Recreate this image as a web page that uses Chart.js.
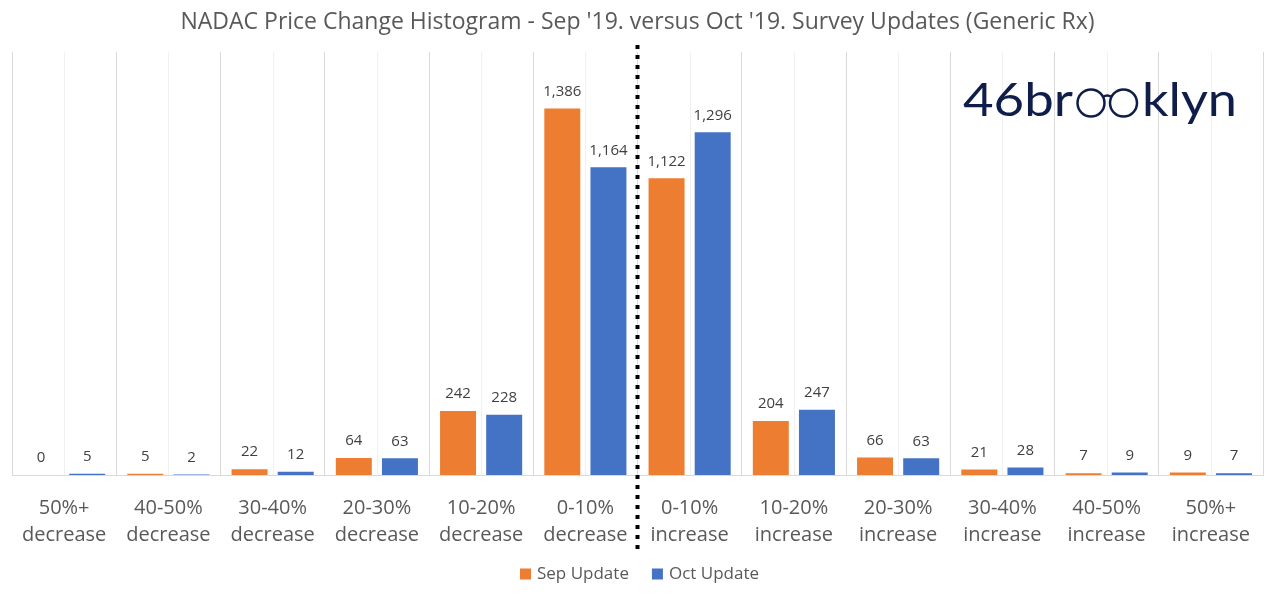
<!DOCTYPE html>
<html>
<head>
<meta charset="utf-8">
<script src="https://cdn.jsdelivr.net/npm/chart.js@4"></script>
<style>
  html, body { margin: 0; padding: 0; background: #fff; }
  #wrap { width: 1277px; height: 600px; }
</style>
</head>
<body>
<div id="wrap"><canvas id="histChart"></canvas></div>
<script>
const categories = [
    ['50%+', 'decrease'], ['40-50%', 'decrease'], ['30-40%', 'decrease'],
    ['20-30%', 'decrease'], ['10-20%', 'decrease'], ['0-10%', 'decrease'],
    ['0-10%', 'increase'], ['10-20%', 'increase'], ['20-30%', 'increase'],
    ['30-40%', 'increase'], ['40-50%', 'increase'], ['50%+', 'increase']
];
const sepUpdate = [0, 5, 22, 64, 242, 1386, 1122, 204, 66, 21, 7, 9];
const octUpdate = [5, 2, 12, 63, 228, 1164, 1296, 247, 63, 28, 9, 7];

const FONT = "'Open Sans', sans-serif";

// light lines through the middle of each category
const centerLines = {
    id: 'centerLines',
    beforeDatasetsDraw(chart) {
        const { ctx, chartArea, scales } = chart;
        ctx.save();
        ctx.strokeStyle = '#f0f0f0';
        ctx.lineWidth = 1;
        for (let i = 0; i < categories.length; i++) {
            const x = Math.round(scales.x.getPixelForValue(i)) + 0.5;
            ctx.beginPath();
            ctx.moveTo(x, chartArea.top);
            ctx.lineTo(x, chartArea.bottom);
            ctx.stroke();
        }
        ctx.restore();
    }
};

// numbers above each bar
const barLabels = {
    id: 'barLabels',
    afterDatasetsDraw(chart) {
        const { ctx } = chart;
        ctx.save();
        ctx.font = '15px ' + FONT;
        ctx.fillStyle = '#404040';
        ctx.textAlign = 'center';
        ctx.textBaseline = 'middle';
        chart.data.datasets.forEach((ds, di) => {
            chart.getDatasetMeta(di).data.forEach((bar, i) => {
                ctx.fillText(ds.data[i].toLocaleString('en-US'), bar.x, bar.y - 17);
            });
        });
        ctx.restore();
    }
};

// divider, legend and logo
const extras = {
    id: 'extras',
    afterDraw(chart) {
        const { ctx, chartArea, scales } = chart;
        const x = (scales.x.getPixelForValue(5) + scales.x.getPixelForValue(6)) / 2;
        ctx.save();
        ctx.strokeStyle = '#000';
        ctx.lineWidth = 4;
        ctx.setLineDash([4, 6]);
        ctx.beginPath();
        ctx.moveTo(x, chartArea.top - 7);
        ctx.lineTo(x, chartArea.bottom + 78);
        ctx.stroke();
        ctx.restore();

        // legend
        ctx.save();
        ctx.font = '17px ' + FONT;
        ctx.textBaseline = 'middle';
        const ly = chartArea.bottom + 99;
        const items = chart.data.datasets.map(ds => ({ text: ds.label, color: ds.backgroundColor }));
        const box = 11, gapBox = 6, gapItem = 23;
        let total = 0;
        items.forEach((it, i) => {
            it.w = box + gapBox + ctx.measureText(it.text).width;
            total += it.w + (i ? gapItem : 0);
        });
        let lx = (chart.width - total) / 2 + 1;
        items.forEach(it => {
            ctx.fillStyle = it.color;
            ctx.fillRect(lx, ly - box / 2, box, box);
            ctx.fillStyle = '#595959';
            ctx.fillText(it.text, lx + box + gapBox, ly);
            lx += it.w + gapItem;
        });
        ctx.restore();

        // 46brooklyn logo
        ctx.save();
        ctx.fillStyle = '#0f1d4a';
        ctx.strokeStyle = '#0f1d4a';
        ctx.font = '46px Lato';
        ctx.textBaseline = 'alphabetic';
        const base = 116;
        const drawFit = (txt, x0, x1) => {
            const w = ctx.measureText(txt).width;
            ctx.save();
            ctx.translate(x0, base);
            ctx.scale((x1 - x0) / w, 1);
            ctx.fillText(txt, 0, 0);
            ctx.restore();
        };
        drawFit('46br', 963, 1073);
        drawFit('klyn', 1142, 1237);
        ctx.lineWidth = 2.5;
        ctx.beginPath();
        ctx.arc(1091, 103, 13.5, 0, Math.PI * 2);
        ctx.stroke();
        ctx.beginPath();
        ctx.arc(1123.5, 103, 13.5, 0, Math.PI * 2);
        ctx.stroke();
        ctx.beginPath();
        ctx.moveTo(1103, 97);
        ctx.quadraticCurveTo(1107.3, 94, 1111.5, 97);
        ctx.stroke();
        ctx.restore();
    }
};

new Chart(document.getElementById('histChart'), {
    type: 'bar',
    data: {
        labels: categories,
        datasets: [
            { label: 'Sep Update', data: sepUpdate, backgroundColor: '#ED7D31' },
            { label: 'Oct Update', data: octUpdate, backgroundColor: '#4472C4' }
        ]
    },
    options: {
        responsive: true,
        maintainAspectRatio: false,
        animation: false,
        categoryPercentage: 0.885,
        barPercentage: 0.78,
        layout: { padding: { left: 12, right: 14, top: 0, bottom: 51 } },
        scales: {
            x: {
                grid: { color: '#d9d9d9', drawTicks: false, offset: true },
                border: { color: '#d9d9d9' },
                ticks: { color: '#595959', font: { family: FONT, size: 20, lineHeight: 1.35 }, padding: 20 },
                afterFit(scale) { scale.height = 74; }
            },
            y: {
                display: false,
                min: 0,
                max: 1600
            }
        },
        plugins: {
            title: {
                display: true,
                text: "NADAC Price Change Histogram - Sep '19. versus Oct '19. Survey Updates (Generic Rx)",
                color: '#595959',
                font: { family: FONT, size: 23, weight: 'normal', lineHeight: 1.2 },
                padding: { top: 9, bottom: 15.4 }
            },
            legend: { display: false },
            tooltip: { enabled: false }
        }
    },
    plugins: [centerLines, barLabels, extras]
});
</script>
</body>
</html>
